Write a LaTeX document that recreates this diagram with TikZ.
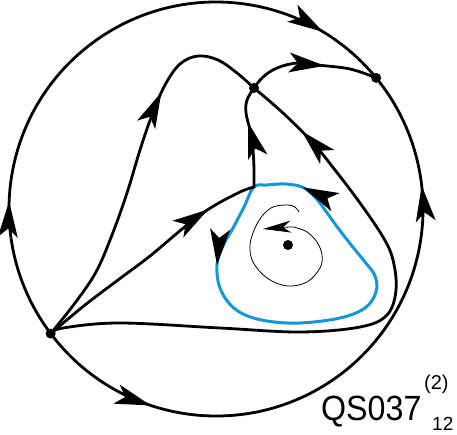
\documentclass[tikz,border=0pt]{standalone}
\usepackage{fontspec}
\setmainfont{Liberation Sans}
\usetikzlibrary{arrows.meta,decorations.markings,calc}
\definecolor{cycleBlue}{RGB}{20,150,215}

\tikzset{
  orbit/.style={line width=2.8pt, line cap=round, line join=round},
  limitcycle/.style={line width=3pt, draw=cycleBlue},
  spiral/.style={line width=0.8pt, -{Stealth[length=28pt,width=12pt,inset=8pt]}},
  flowtip/.style={postaction={decorate, decoration={markings,
      mark=at position #1 with {\fill[black] (-36pt,10pt) -- (0pt,0pt) -- (-36pt,-10pt) -- (-27pt,0pt) -- cycle;}}}},
  eqpt/.style={fill=black},
}

\begin{document}
\begin{tikzpicture}[x=1pt,y=-1pt]
    \useasboundingbox (0,0) rectangle (457,435);

    \coordinate (O) at (216,209);
    \coordinate (A) at ($(O)+(143:207)$);
    \coordinate (B) at (254,88);
    \coordinate (C) at ($(O)+(320.7:207)$);
    \coordinate (J) at (254,187);
    \coordinate (F) at (288,245);

    % circle at infinity
    \draw[orbit, flowtip=0.22, flowtip=0.89] (A) arc[start angle=143, end angle=320.7, radius=207];
    \draw[orbit, flowtip=0.19, flowtip=0.82] (A) arc[start angle=143, end angle=-39.3, radius=207];

    % limit cycle
    \draw[limitcycle, flowtip=0.136, flowtip=0.847] plot[smooth cycle, tension=0.6] coordinates {
        (J) (244,207) (233,228) (222,248) (217,265) (219,285) (228,302) (243,314)
        (267,321) (300,323) (340,318) (365,308) (376,292) (375,276) (365,262)
        (352,246) (338,228) (325,210) (314,196) (302,187) (285,184) (267,185)};

    % separatrices
    \draw[orbit, flowtip=0.69] plot[smooth, tension=0.6] coordinates {
        (A) (75,303) (96,272) (112,235) (127,193) (140,150) (152,115) (165,85)
        (180,64) (198,56) (218,60) (237,73) (B)};
    \draw[orbit, flowtip=0.567, flowtip=0.896]
        plot[smooth, tension=0.6] coordinates {
        (A) (85,305) (118,280) (150,256) (187,225) (212,207) (240,192) (J)}
        plot[smooth, tension=0.6] coordinates {
        (J) (254,170) (253,150) (250,130) (246,113) (247,100) (B)};
    \draw[orbit, flowtip=0.896] plot[smooth, tension=0.6] coordinates {
        (A) (63,328) (120,323) (220,328) (300,332) (360,327) (387,315) (396,290)
        (393,260) (383,237) (360,203) (335,170) (313,143) (283,113) (B)};
    \draw[orbit, flowtip=0.6] plot[smooth, tension=0.6] coordinates {
        (B) (263,77) (277,68) (297,63) (317,65) (350,69) (C)};

    % orbit near the focus
    \draw[spiral] plot[smooth, tension=0.6] coordinates {
        (299,212) (295,207) (287,205) (273,207) (263,215) (255,228) (250,245)
        (253,262) (267,278) (287,286) (307,282) (320,268) (322,255) (317,242)
        (307,232) (297,228) (290,227) (263,229)};

    \foreach \p in {A,B,C,F}
        \fill[eqpt] (\p) circle (5);

    \node[anchor=base west, inner sep=0, xscale=0.92,
          font=\fontsize{35}{35}\selectfont] (name) at (321,420) {QS037};
    \node[anchor=base west, inner sep=0,
          font=\fontsize{20}{20}\selectfont] (upper) at (424,389) {(2)};
    \node[anchor=base west, inner sep=0,
          font=\fontsize{19}{19}\selectfont] (lower) at (432,430) {12};
\end{tikzpicture}
\end{document}
